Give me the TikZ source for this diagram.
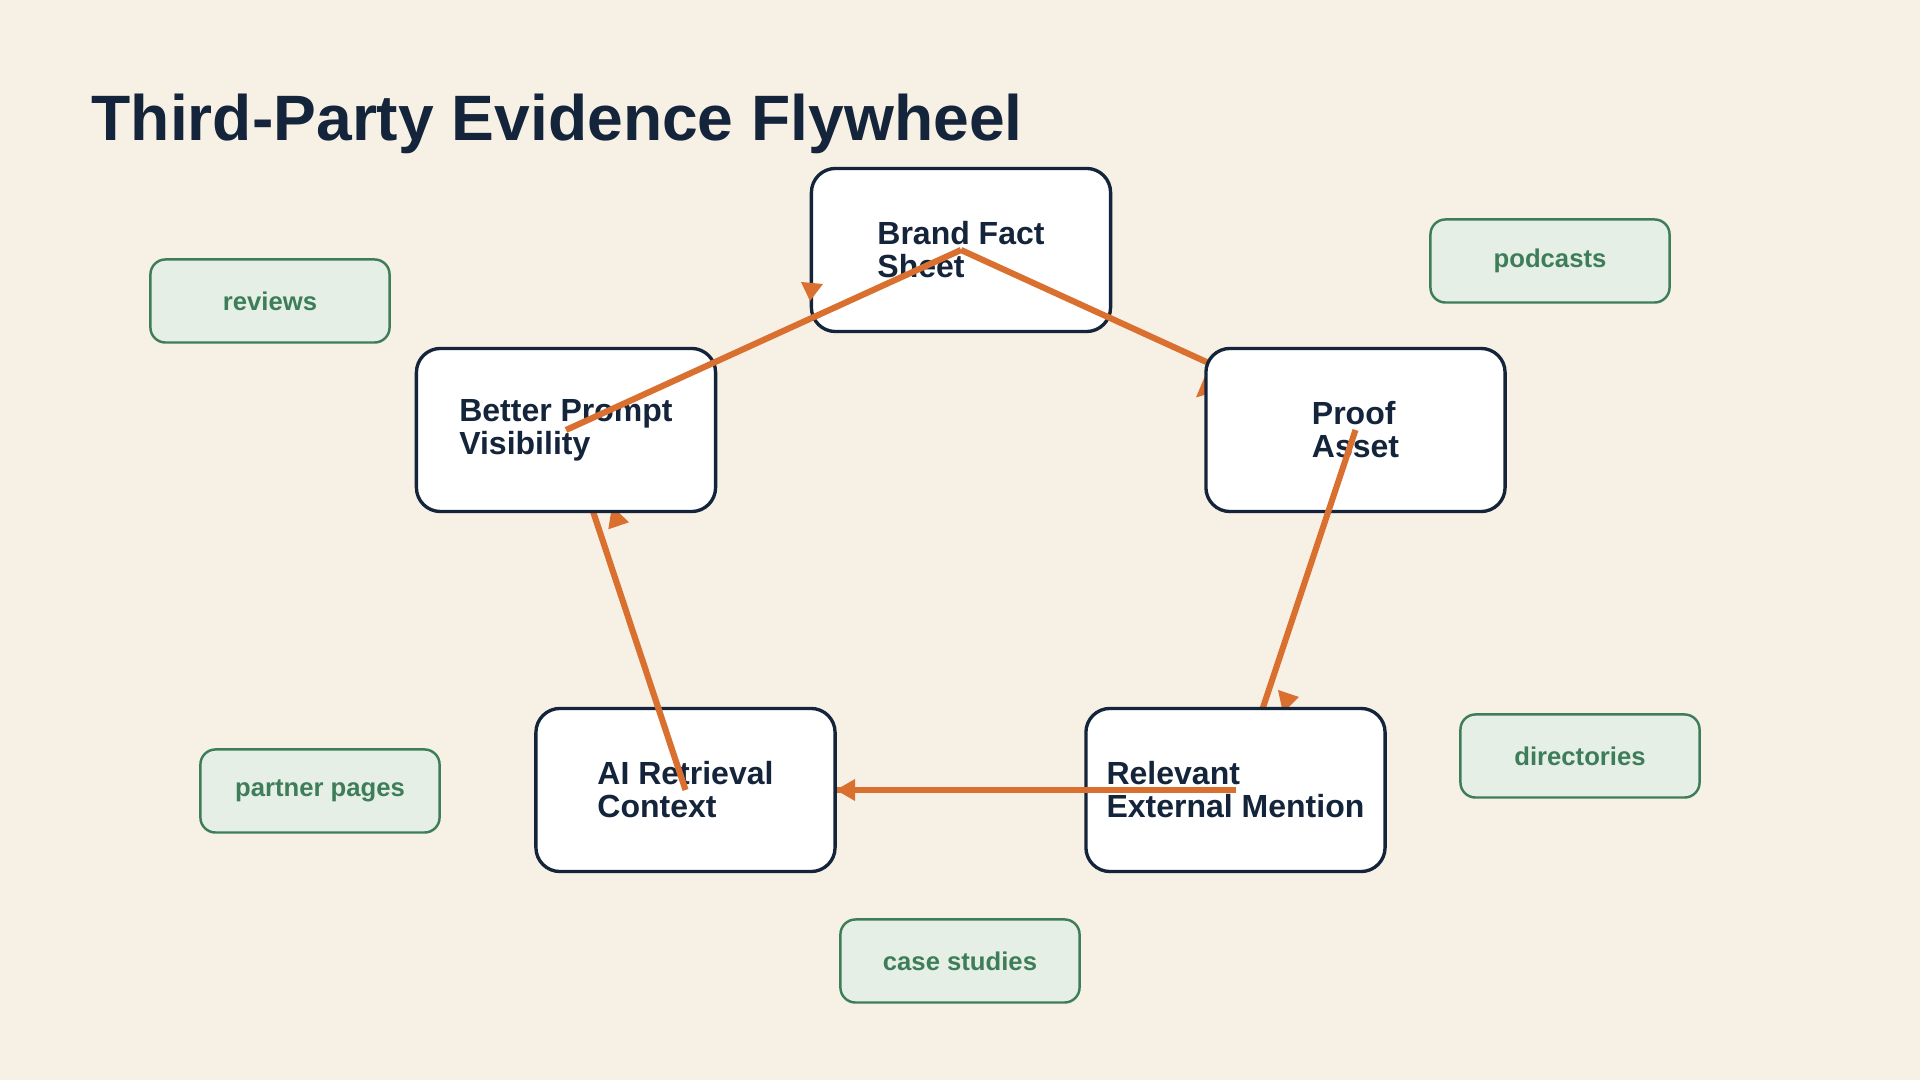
\documentclass[tikz,border=0pt]{standalone}
\usepackage{fontspec}
\setmainfont{Liberation Sans}
\definecolor{bgc}{HTML}{F7F0E4}
\definecolor{navy}{HTML}{14243A}
\definecolor{org}{HTML}{D9702F}
\definecolor{grn}{HTML}{3E7D5A}
\definecolor{grnfill}{HTML}{E6EFE6}
\begin{document}
\begin{tikzpicture}[x=0.01cm,y=-0.01cm,
  mainbox/.style={draw=navy, line width=0.95pt, fill=white, rounded corners=0.24cm,
    minimum width=2.99cm, minimum height=1.63cm, inner sep=0pt, align=left,
    font=\fontsize{9.1}{9.4}\selectfont\bfseries, text=navy},
  tagbox/.style={draw=grn, line width=0.7pt, fill=grnfill, rounded corners=0.15cm,
    minimum width=2.39cm, minimum height=0.83cm, inner sep=0pt,
    font=\fontsize{7.3}{8}\selectfont\bfseries, text=grn},
  flow/.style={draw=org, line width=1.75pt},
  head/.style={fill=org}]
\fill[bgc] (0,0) rectangle (1920,1080);
\useasboundingbox (0,0) rectangle (1920,1080);

\node[anchor=base west, inner sep=0pt, text=navy, font=\fontsize{18.25}{20}\selectfont\bfseries] (title) at (91,141) {Third-Party Evidence Flywheel};

\coordinate (pbrand) at (961,250);
\coordinate (pproof) at (1355.5,430);
\coordinate (prel) at (1235.5,790);
\coordinate (pai) at (685.5,790);
\coordinate (pbetter) at (566,430);

\node[mainbox] (brand) at (pbrand) {Brand Fact\\Sheet};
\draw[flow] (brand.center) -- (pproof);
\fill[head] (1196,397.5) -- (1205,376) -- (1218,391) -- cycle;

\node[mainbox] (proof) at (pproof) {Proof\\Asset};
\draw[flow] (proof.center) -- (prel);
\fill[head] (1278,690) -- (1299,697) -- (1283,713) -- cycle;

\node[mainbox] (rel) at (prel) {Relevant\\External Mention};
\draw[flow] (rel.center) -- (pai);
\fill[head] (836,790) -- (855,779) -- (855,801) -- cycle;

\node[mainbox] (ai) at (pai) {AI Retrieval\\Context};
\draw[flow] (ai.center) -- (pbetter);
\fill[head] (612,506) -- (629,522.3) -- (608.3,529.3) -- cycle;

\node[mainbox] (better) at (pbetter) {Better Prompt\\Visibility};
\draw[flow] (better.center) -- (brand.center);
\fill[head] (801,282) -- (823,284) -- (810,301) -- cycle;

\node[tagbox] (reviews) at (270,301) {reviews};
\node[tagbox] (podcasts) at (1550,261) {podcasts};
\node[tagbox] (partner) at (320,791) {partner pages};
\node[tagbox] (directories) at (1580,756) {directories};
\node[tagbox] (cases) at (960,961) {case studies};
\end{tikzpicture}
\end{document}
